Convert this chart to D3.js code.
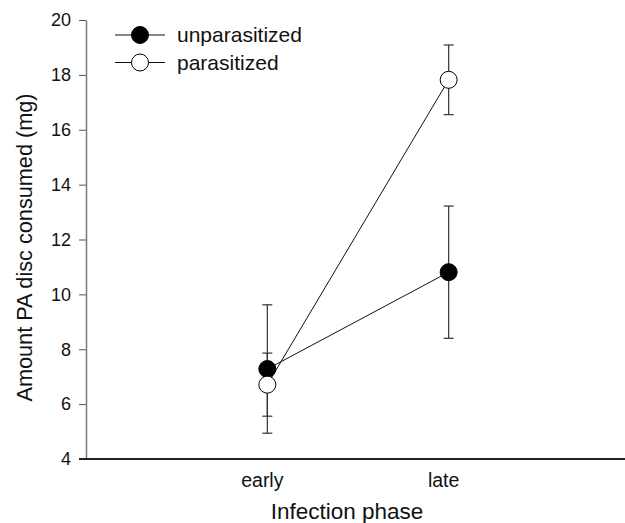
<!DOCTYPE html>
<html>
<head>
<meta charset="utf-8">
<script src="https://cdn.jsdelivr.net/npm/d3@7"></script>
<style>
  body { margin: 0; background: #fff; }
  svg { display: block; font-family: "Liberation Sans", Arial, sans-serif; }
</style>
</head>
<body>
<svg id="chart" width="625" height="523"></svg>
<script>
// data
const phases = ["early", "late"];
const phasePos = [1, 2];
const seriesNames = ["unparasitized", "parasitized"];
const unparMean = [7.28, 10.81];
const unparErr = [2.34, 2.41];
const parMean = [6.71, 17.82];
const parErr = [1.15, 1.27];
const yTicks = [4, 6, 8, 10, 12, 14, 16, 18, 20];

const series = [
    {name: seriesNames[0], mean: unparMean, err: unparErr, fill: "#000"},
    {name: seriesNames[1], mean: parMean, err: parErr, fill: "#fff"}
];

const width = 625, height = 523;
const svg = d3.select("#chart");

let x = d3.scaleLinear()
    .domain([0, 3])
    .range([86, 630]);

let y = d3.scaleLinear()
    .domain([4, 20])
    .range([459, 20]);

// y axis
let yAxis = g => g
    .attr("transform", `translate(${x(0)},0)`)
    .call(d3.axisLeft(y).tickValues(yTicks).tickSize(7).tickPadding(8).tickSizeOuter(0))
    .call(g => g.select(".domain").attr("stroke", "#7a7a7a").attr("stroke-width", 1.5))
    .call(g => g.selectAll(".tick line").attr("stroke", "#555"))
    .call(g => g.selectAll(".tick text")
        .attr("font-size", 18)
        .attr("fill", "#111")
        .attr("font-family", "Liberation Sans, Arial, sans-serif"));

svg.append("g").call(yAxis);

// x axis (plain line, no ticks)
svg.append("line")
    .attr("x1", x(0) - 7)
    .attr("x2", width)
    .attr("y1", y(4))
    .attr("y2", y(4))
    .attr("stroke", "#222")
    .attr("stroke-width", 2);

svg.append("g")
    .selectAll("text")
    .data(phases)
    .join("text")
    .attr("x", (d, i) => x(phasePos[i]) - 5)
    .attr("y", y(4) + 28)
    .attr("text-anchor", "middle")
    .attr("font-size", 19.5)
    .attr("fill", "#111")
    .text(d => d);

// axis titles
svg.append("text")
    .attr("x", 347)
    .attr("y", 519)
    .attr("text-anchor", "middle")
    .attr("font-size", 22.5)
    .attr("fill", "#111")
    .text("Infection phase");

svg.append("text")
    .attr("transform", `translate(32,${(y(4) + y(20)) / 2 + 8}) rotate(-90)`)
    .attr("text-anchor", "middle")
    .attr("font-size", 21.7)
    .attr("fill", "#111")
    .text("Amount PA disc consumed (mg)");

const line = d3.line()
    .x((d, i) => x(phasePos[i]))
    .y(d => y(d));

// error bars
series.forEach(s => {
    const g = svg.append("g").attr("stroke", "#333").attr("stroke-width", 1.2);
    s.mean.forEach((m, i) => {
        const cx = x(phasePos[i]);
        g.append("line")
            .attr("x1", cx).attr("x2", cx)
            .attr("y1", y(m - s.err[i])).attr("y2", y(m + s.err[i]));
        [m - s.err[i], m + s.err[i]].forEach(v => {
            g.append("line")
                .attr("x1", cx - 5).attr("x2", cx + 5)
                .attr("y1", y(v)).attr("y2", y(v));
        });
    });
});

// connecting lines
svg.append("g")
    .selectAll("path")
    .data(series)
    .join("path")
    .attr("fill", "none")
    .attr("stroke", "#111")
    .attr("stroke-width", 1)
    .attr("d", d => line(d.mean));

// markers
series.forEach(s => {
    svg.append("g")
        .selectAll("circle")
        .data(s.mean)
        .join("circle")
        .attr("cx", (d, i) => x(phasePos[i]))
        .attr("cy", d => y(d))
        .attr("r", 8.5)
        .attr("fill", s.fill)
        .attr("stroke", "#000")
        .attr("stroke-width", 1);
});

// legend
const legend = svg.append("g")
    .selectAll("g")
    .data(series)
    .join("g")
    .attr("transform", (d, i) => `translate(140,${35 + i * 27.5})`);

legend.append("line")
    .attr("x1", -25).attr("x2", 25)
    .attr("stroke", "#111").attr("stroke-width", 1.2);

legend.append("circle")
    .attr("r", 8.5)
    .attr("fill", d => d.fill)
    .attr("stroke", "#000");

legend.append("text")
    .attr("x", 37)
    .attr("dy", "0.35em")
    .attr("font-size", 21)
    .attr("fill", "#111")
    .text(d => d.name);
</script>
</body>
</html>
